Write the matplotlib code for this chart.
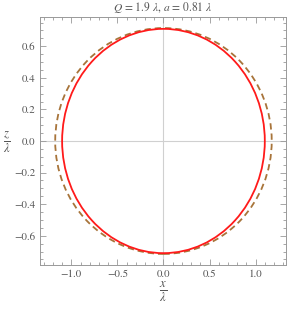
import matplotlib
matplotlib.use('Agg')
import matplotlib.pyplot as plt
from matplotlib.patches import Ellipse
from matplotlib.ticker import MultipleLocator

# semi-axes (in units of lambda) of the two contours
solid_ax = [1.10, 0.71]
dashed_ax = [1.175, 0.715]
title = r'$Q$ = 1.9 $\lambda$, $a$ = 0.81 $\lambda$'
xticks = [-1.0, -0.5, 0.0, 0.5, 1.0]
yticks = [-0.6, -0.4, -0.2, 0.0, 0.2, 0.4, 0.6]

plt.rcParams['font.family'] = 'STIXGeneral'
plt.rcParams['mathtext.fontset'] = 'stix'

fig = plt.figure(figsize=(2.94, 3.12), dpi=100)
ax = fig.add_axes([40/294, 47/312, 246/294, 248/312])

gray = '#999999'
txt = '#555555'
ax.axhline(0, color='#d0d0d0', lw=0.8, zorder=0)
ax.axvline(0, color='#d0d0d0', lw=0.8, zorder=0)

ax.add_patch(Ellipse((0, 0), 2*dashed_ax[0], 2*dashed_ax[1], fill=False,
                     edgecolor='#a8743a', lw=1.3, ls=(0, (3.5, 2.2))))
ax.add_patch(Ellipse((0, 0), 2*solid_ax[0], 2*solid_ax[1], fill=False,
                     edgecolor='#ff1a1a', lw=1.3))

ax.set_xlim(-1.34, 1.33)
ax.set_ylim(-0.785, 0.785)
ax.set_xticks(xticks)
ax.set_yticks(yticks)
ax.xaxis.set_minor_locator(MultipleLocator(0.1))
ax.yaxis.set_minor_locator(MultipleLocator(0.05))
ax.set_xticklabels(['\u22121.0', '\u22120.5', '0.0', '0.5', '1.0'])
ax.set_yticklabels(['\u22120.6', '\u22120.4', '\u22120.2', '0.0', '0.2', '0.4', '0.6'])
ax.tick_params(which='both', direction='in', top=True, right=True,
               color=gray, labelcolor=txt, labelsize=7.8, width=0.6)
ax.tick_params(which='major', length=4)
ax.tick_params(which='minor', length=2)
for s in ax.spines.values():
    s.set_color(gray)
    s.set_linewidth(0.7)

ax.set_xlabel(r'$\frac{x}{\lambda}$', color=txt, fontsize=13, labelpad=0)
fig.text(7/294, 1 - 142/312, r'$\frac{z}{\lambda}$', color=txt, fontsize=13,
         ha='center', va='center')
ax.set_title(title, color=txt, fontsize=8.3, pad=4)

fig.savefig('out.png', dpi=100)
